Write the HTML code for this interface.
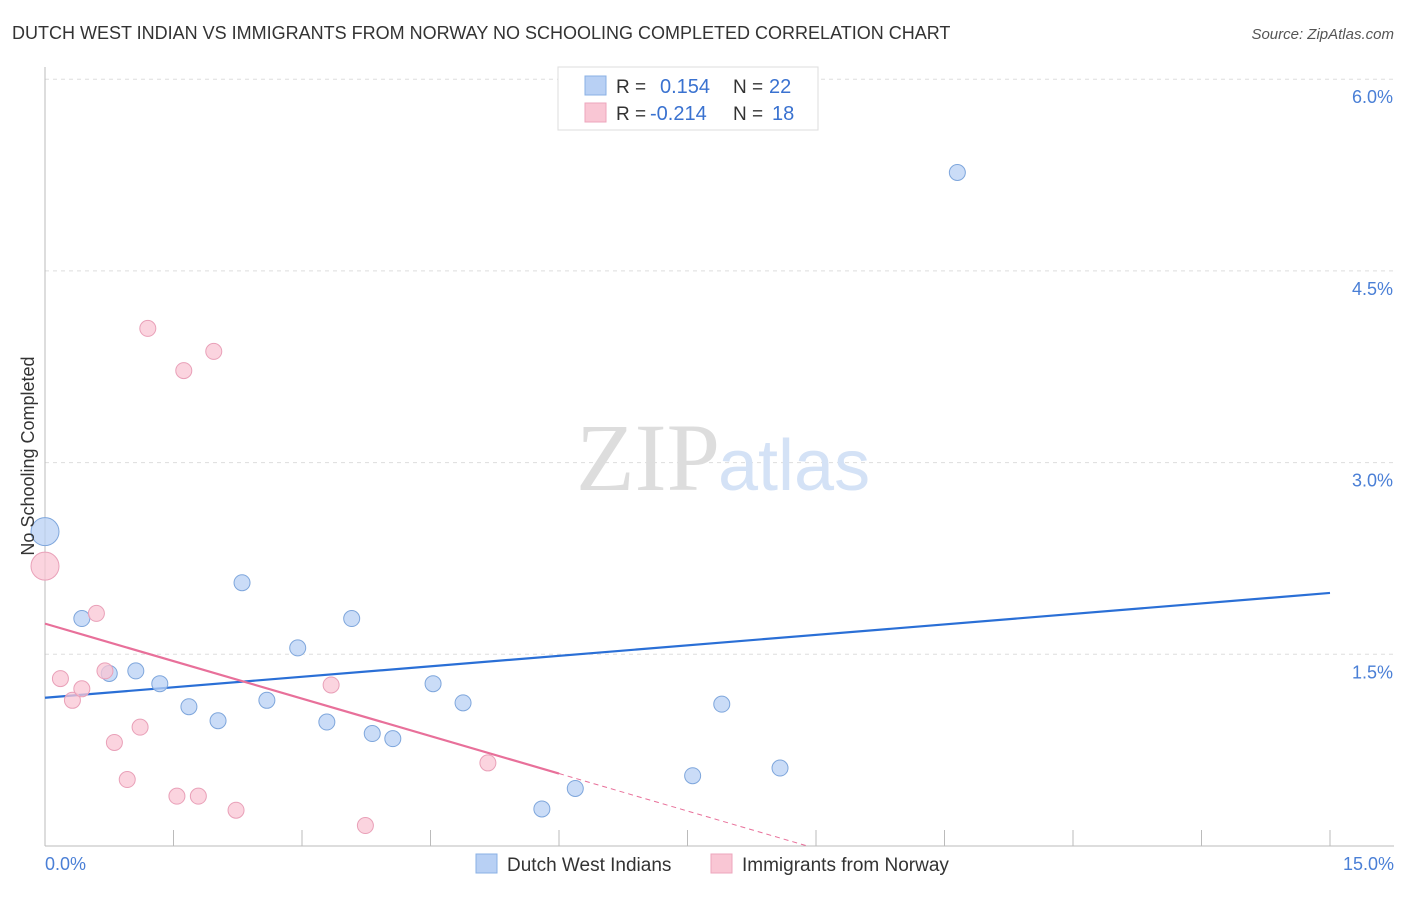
<!DOCTYPE html>
<html><head><meta charset="utf-8"><style>
body{margin:0;background:#fff;font-family:"Liberation Sans",sans-serif;}
svg text{font-family:"Liberation Sans",sans-serif;}
</style></head><body>
<svg width="1406" height="892" xmlns="http://www.w3.org/2000/svg">
<text x="12" y="39" font-size="18" fill="#333">DUTCH WEST INDIAN VS IMMIGRANTS FROM NORWAY NO SCHOOLING COMPLETED CORRELATION CHART</text>
<text x="1394" y="39" font-size="15" fill="#555" font-style="italic" text-anchor="end">Source: ZipAtlas.com</text>
<g id="grid"></g>
<g id="axes"></g>
<text x="720" y="490" font-size="96" fill="#ddd" text-anchor="end" font-family="Liberation Serif" style="font-family:'Liberation Serif',serif">ZIP</text>
<text x="718" y="490" font-size="72" fill="#d4e2f6">atlas</text>
<g id="lines"></g>
<g id="points"></g>
<text transform="translate(34,456) rotate(-90)" font-size="18" fill="#333" text-anchor="middle">No Schooling Completed</text>
<text x="45" y="870" font-size="18" fill="#4a7fd6">0.0%</text>
<text x="1394" y="870" font-size="18" fill="#4a7fd6" text-anchor="end">15.0%</text>
<g>
<rect x="558" y="67" width="260" height="63" fill="#fff" stroke="#ddd"/>
<rect x="585" y="76" width="21" height="19" fill="#b8d0f4" stroke="#8ab0e4"/>
<rect x="585" y="103" width="21" height="19" fill="#f9c6d4" stroke="#eda6bc"/>
<text x="616" y="93" font-size="19" fill="#333">R = </text><text x="660" y="93" font-size="20" fill="#3a72d0">0.154</text>
<text x="733" y="93" font-size="19" fill="#333">N = </text><text x="769" y="93" font-size="20" fill="#3a72d0">22</text>
<text x="616" y="120" font-size="19" fill="#333">R = </text><text x="650" y="120" font-size="20" fill="#3a72d0">-0.214</text>
<text x="733" y="120" font-size="19" fill="#333">N = </text><text x="772" y="120" font-size="20" fill="#3a72d0">18</text>
</g>
<g>
<rect x="476" y="854" width="21" height="19" fill="#b8d0f4" stroke="#8ab0e4"/>
<text x="507" y="871" font-size="19" fill="#333">Dutch West Indians</text>
<rect x="711" y="854" width="21" height="19" fill="#f9c6d4" stroke="#eda6bc"/>
<text x="742" y="871" font-size="19" fill="#333">Immigrants from Norway</text>
</g>
</svg>
<script>
const blueX=[0,0.43,0.75,1.06,1.34,1.68,2.02,2.30,2.59,2.95,3.29,3.58,3.82,4.06,4.53,4.88,5.80,6.19,7.56,7.90,8.58,10.65];
const blueY=[2.46,1.78,1.35,1.37,1.27,1.09,0.98,2.06,1.14,1.55,0.97,1.78,0.88,0.84,1.27,1.12,0.29,0.45,0.55,1.11,0.61,5.27];
const pinkX=[0,0.18,0.32,0.43,0.60,0.70,0.81,0.96,1.11,1.20,1.54,1.62,1.79,1.97,2.23,3.34,3.74,5.17];
const pinkY=[2.19,1.31,1.14,1.23,1.82,1.37,0.81,0.52,0.93,4.05,0.39,3.72,0.39,3.87,0.28,1.26,0.16,0.65];
const yTicks=[1.5,3.0,4.5,6.0];
const yTickLabels=["1.5%","3.0%","4.5%","6.0%"];
const xTicks=[0,1.5,3,4.5,6,7.5,9,10.5,12,13.5,15];
const blueTrend=[1.16,1.98];
const pinkTrend=[1.74,-0.0];
const NS="http://www.w3.org/2000/svg";
const sx=v=>45+v/15*1285;
const sy=v=>846-v/1.5*191.7;
function mk(tag,attrs,parent){const e=document.createElementNS(NS,tag);for(const k in attrs)e.setAttribute(k,attrs[k]);document.getElementById(parent).appendChild(e);return e;}
yTicks.forEach((t,i)=>{
 const l=mk('line',{x1:45,x2:1394,y1:sy(t),y2:sy(t),stroke:'#ddd','stroke-dasharray':'4,4'},'grid');
 
 
 const tx=mk('text',{x:1393,y:sy(t)+24,'font-size':18,fill:'#4a7fd6','text-anchor':'end'},'grid');
 tx.textContent=yTickLabels[i];
 
 
});
const ax=mk('line',{x1:45,x2:45,y1:67,y2:846,stroke:'#bbb'},'axes');


const bx=mk('line',{x1:45,x2:1394,y1:846,y2:846,stroke:'#bbb'},'axes');


xTicks.forEach(t=>{
 const l=mk('line',{x1:sx(t),x2:sx(t),y1:830,y2:846,stroke:'#bbb'},'axes');
 
 
});
const bl=mk('line',{x1:sx(0),y1:sy(blueTrend[0]),x2:sx(15),y2:sy(blueTrend[1]),stroke:'#2a6fd6','stroke-width':2.2},'lines');


const pk=x=>pinkTrend[0]+(pinkTrend[1]-pinkTrend[0])*x/8.9;
const pl=mk('line',{x1:sx(0),y1:sy(pk(0)),x2:sx(6),y2:sy(pk(6)),stroke:'#e8709a','stroke-width':2.2},'lines');


const pd=mk('line',{x1:sx(6),y1:sy(pk(6)),x2:sx(8.9),y2:sy(pk(8.9)),stroke:'#e8709a','stroke-width':1,'stroke-dasharray':'5,4'},'lines');


blueX.forEach((x,i)=>{
 const c=mk('circle',{cx:sx(x),cy:sy(blueY[i]),r:x===0?14:8,fill:'#b8d0f4','fill-opacity':0.75,stroke:'#7ea6dc','stroke-width':1},'points');
 
 
});
pinkX.forEach((x,i)=>{
 const c=mk('circle',{cx:sx(x),cy:sy(pinkY[i]),r:x===0?14:8,fill:'#f9c6d4','fill-opacity':0.75,stroke:'#e9a0b8','stroke-width':1},'points');
 
 
});
</script>
</body></html>
